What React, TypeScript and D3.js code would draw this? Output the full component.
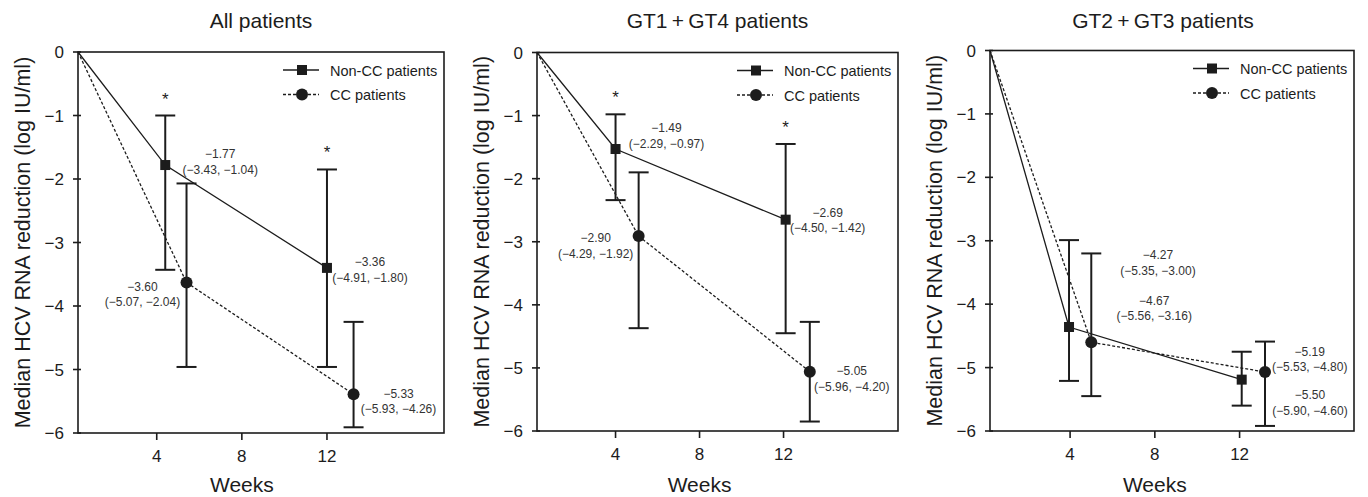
import React from "react";
import * as d3 from "d3";

// ---- data ----
const panelTitles = ["All patients", "GT1\u2009+\u2009GT4 patients", "GT2\u2009+\u2009GT3 patients"];
const weekTicks = [4, 8, 12];
const valueTicks = [0, -1, -2, -3, -4, -5, -6];
const seriesNames = ["Non-CC patients", "CC patients"];

// x position (weeks) of each plotted point: baseline, ~week 4, ~week 12
const nonCcWeeks = [
  [0.3, 4.4, 12.0],
  [0.26, 4.0, 12.1],
  [0.22, 3.95, 12.1],
];
const ccWeeks = [
  [0.3, 5.4, 13.25],
  [0.26, 5.1, 13.25],
  [0.22, 5.0, 13.2],
];

// medians and error bar ends as drawn (log IU/ml)
const nonCcMedian = [
  [0, -1.78, -3.4],
  [0, -1.53, -2.65],
  [0, -4.36, -5.19],
];
const nonCcLow = [
  [-3.43, -4.96],
  [-2.34, -4.45],
  [-5.21, -5.6],
];
const nonCcHigh = [
  [-1.0, -1.85],
  [-0.98, -1.45],
  [-2.99, -4.75],
];
const ccMedian = [
  [0, -3.63, -5.39],
  [0, -2.91, -5.06],
  [0, -4.6, -5.07],
];
const ccLow = [
  [-4.96, -5.91],
  [-4.37, -5.85],
  [-5.45, -5.92],
];
const ccHigh = [
  [-2.07, -4.25],
  [-1.9, -4.27],
  [-3.2, -4.59],
];

// printed annotations: median (low, high)
const nonCcNotes = [
  [[-1.77, -3.43, -1.04], [-3.36, -4.91, -1.8]],
  [[-1.49, -2.29, -0.97], [-2.69, -4.5, -1.42]],
  [[-4.27, -5.35, -3.0], [-5.19, -5.53, -4.8]],
];
const ccNotes = [
  [[-3.6, -5.07, -2.04], [-5.33, -5.93, -4.26]],
  [[-2.9, -4.29, -1.92], [-5.05, -5.96, -4.2]],
  [[-4.67, -5.56, -3.16], [-5.5, -5.9, -4.6]],
];
// significance stars above the non-CC bars
const nonCcStars = [
  [true, true],
  [true, true],
  [false, false],
];

// ---- layout ----
const W = 1368;
const H = 497;
const FONT = "'Liberation Sans', Arial, Helvetica, sans-serif";
const INK = "#1c1c1c";
const NOTE = "#333";

const plotLeft = [78, 537, 990];
const plotRight = [444, 898, 1354];
const plotTop = [52, 52.5, 50.5];
const plotBottom = [433, 431, 431];
const weekMin = [0.3, 0.26, 0.22];
const weekMax = [17.5, 17.45, 17.4];
const titleShift = [0, 0, -9];

// note offsets from the point [dx, dy of first line]
const nonCcNoteOffset = [
  [[55, -11], [43, -6]],
  [[51, -21], [42, -7]],
  [[89, -72], [68, -28]],
];
const ccNoteOffset = [
  [[-44, 4], [45, -1]],
  [[-43, 2], [42, -1]],
  [[63, -42], [45, 23]],
];

const fmt = d3.format(".2f");

function Square({ cx, cy }: { cx: number; cy: number }) {
  return <rect x={cx - 5} y={cy - 5} width={10} height={10} fill={INK} />;
}

function Dot({ cx, cy }: { cx: number; cy: number }) {
  return <circle cx={cx} cy={cy} r={6} fill={INK} />;
}

function Panel({ i }: { i: number }) {
  const left = plotLeft[i];
  const right = plotRight[i];
  const top = plotTop[i];
  const bottom = plotBottom[i];
  const x = d3.scaleLinear().domain([weekMin[i], weekMax[i]]).range([left, right]);
  const y = d3.scaleLinear().domain([0, -6]).range([top, bottom]);
  const line = d3
    .line<[number, number]>()
    .x((d) => x(d[0]))
    .y((d) => y(d[1]));

  const nonPts: [number, number][] = nonCcWeeks[i].map((w, k) => [w, nonCcMedian[i][k]]);
  const ccPts: [number, number][] = ccWeeks[i].map((w, k) => [w, ccMedian[i][k]]);

  const errBar = (wk: number, lo: number, hi: number, key: string) => {
    const cx = x(wk);
    return (
      <g key={key} stroke={INK} strokeWidth={2} fill="none">
        <line x1={cx} x2={cx} y1={y(hi)} y2={y(lo)} />
        <line x1={cx - 10} x2={cx + 10} y1={y(hi)} y2={y(hi)} />
        <line x1={cx - 10} x2={cx + 10} y1={y(lo)} y2={y(lo)} />
      </g>
    );
  };

  const note = (px: number, py: number, vals: number[], off: number[], key: string) => {
    const cx = px + off[0];
    const cy = py + off[1];
    return (
      <g key={key} fontSize={12} fill={NOTE} textAnchor="middle">
        <text x={cx} y={cy + 4.3}>{fmt(vals[0])}</text>
        <text x={cx} y={cy + 15.5 + 4.3}>{`(${fmt(vals[1])}, ${fmt(vals[2])})`}</text>
      </g>
    );
  };

  const legX = right - 161;
  const legY = top + 18;
  const plotMid = (left + right) / 2;

  return (
    <g fontFamily={FONT}>
      <text x={plotMid + titleShift[i]} y={28} textAnchor="middle" fontSize={21} fill={INK}>
        {panelTitles[i]}
      </text>

      {/* series lines */}
      <path d={line(nonPts) || ""} fill="none" stroke={INK} strokeWidth={1.3} />
      <path d={line(ccPts) || ""} fill="none" stroke={INK} strokeWidth={1.3} strokeDasharray="3,2" />

      {/* error bars */}
      {nonPts.slice(1).map((p, k) => errBar(p[0], nonCcLow[i][k], nonCcHigh[i][k], `ne${k}`))}
      {ccPts.slice(1).map((p, k) => errBar(p[0], ccLow[i][k], ccHigh[i][k], `ce${k}`))}

      {/* markers */}
      {nonPts.slice(1).map((p, k) => (
        <Square key={`ns${k}`} cx={x(p[0])} cy={y(p[1])} />
      ))}
      {ccPts.slice(1).map((p, k) => (
        <Dot key={`cd${k}`} cx={x(p[0])} cy={y(p[1])} />
      ))}

      {/* stars */}
      {nonPts.slice(1).map((p, k) =>
        nonCcStars[i][k] ? (
          <text key={`st${k}`} x={x(p[0])} y={y(nonCcHigh[i][k]) - 21 + 10} textAnchor="middle" fontSize={17} fill={INK}>
            *
          </text>
        ) : null
      )}

      {/* notes */}
      {nonPts.slice(1).map((p, k) => note(x(p[0]), y(p[1]), nonCcNotes[i][k], nonCcNoteOffset[i][k], `nn${k}`))}
      {ccPts.slice(1).map((p, k) => note(x(p[0]), y(p[1]), ccNotes[i][k], ccNoteOffset[i][k], `cn${k}`))}

      {/* frame */}
      <rect x={left} y={top} width={right - left} height={bottom - top} fill="none" stroke={INK} strokeWidth={1.6} />

      {/* y axis */}
      {valueTicks.map((v) => (
        <g key={`yt${v}`}>
          <line x1={left - 5} x2={left + 3} y1={y(v)} y2={y(v)} stroke={INK} strokeWidth={1.6} />
          <text x={left - 14} y={y(v) + 6} textAnchor="end" fontSize={17} fill={INK}>
            {v === 0 ? "0" : `\u2212${Math.abs(v)}`}
          </text>
        </g>
      ))}
      <text
        transform={`translate(${left - 55},${(top + bottom) / 2}) rotate(-90)`}
        textAnchor="middle"
        dy={7}
        fontSize={21.5}
        fill={INK}
      >
        Median HCV RNA reduction (log IU/ml)
      </text>

      {/* x axis */}
      {weekTicks.map((t) => (
        <g key={`xt${t}`}>
          <line x1={x(t)} x2={x(t)} y1={bottom} y2={bottom + 7} stroke={INK} strokeWidth={1.6} />
          <text x={x(t)} y={bottom + 29} textAnchor="middle" fontSize={17} fill={INK}>
            {t}
          </text>
        </g>
      ))}
      <text x={x(8)} y={492} textAnchor="middle" fontSize={21} fill={INK}>
        Weeks
      </text>

      {/* legend */}
      <g fill={INK}>
        <line x1={legX} x2={legX + 36} y1={legY} y2={legY} stroke={INK} strokeWidth={1.5} />
        <Square cx={legX + 19} cy={legY} />
        <text x={legX + 47} y={legY + 5.5} fontSize={14.5}>
          {seriesNames[0]}
        </text>
        <line x1={legX} x2={legX + 36} y1={legY + 24.5} y2={legY + 24.5} stroke={INK} strokeWidth={1.5} strokeDasharray="3,2" />
        <Dot cx={legX + 19} cy={legY + 24.5} />
        <text x={legX + 47} y={legY + 24.5 + 5.5} fontSize={14.5}>
          {seriesNames[1]}
        </text>
      </g>
    </g>
  );
}

export default function App() {
  return (
    <svg
      width={W}
      height={H}
      viewBox={`0 0 ${W} ${H}`}
      style={{ position: "absolute", left: 0, top: 0, background: "#fff" }}
    >
      <rect width={W} height={H} fill="#fff" />
      {panelTitles.map((_, i) => (
        <Panel key={i} i={i} />
      ))}
    </svg>
  );
}
